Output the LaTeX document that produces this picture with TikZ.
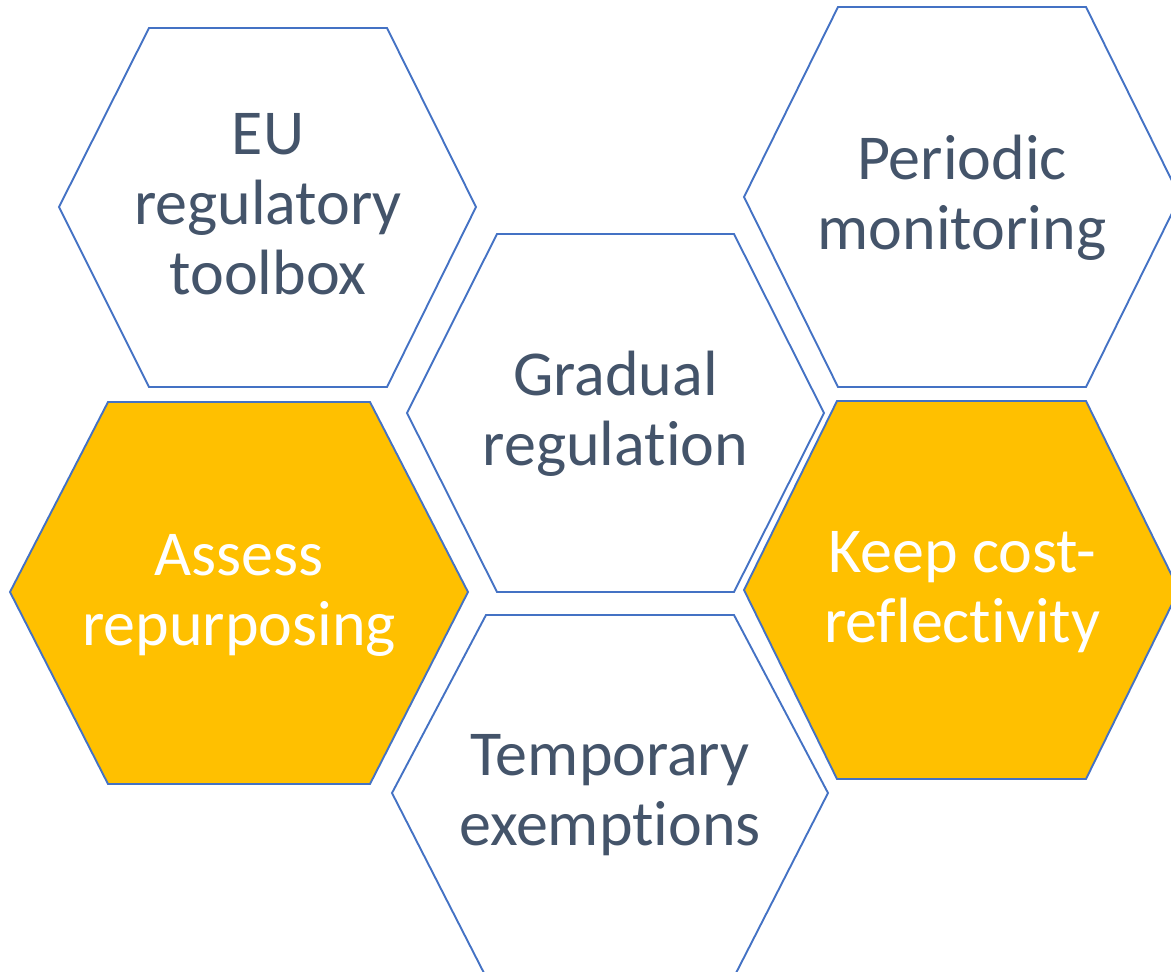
\documentclass[tikz,border=0pt]{standalone}
\usepackage{fontspec}
\setmainfont{Carlito}[RawFeature={-liga;-clig;-calt;-dlig}]
\definecolor{hexline}{HTML}{4472C4}
\definecolor{hexfill}{HTML}{FFC000}
\definecolor{hextext}{HTML}{44546A}
\newcommand\hstrut{\rule[-18pt]{0pt}{70pt}}
\newcommand\nolig{\kern0pt\relax}
\tikzset{
  hexwhite/.style={draw=hexline, line width=1.9pt, fill=white, line join=miter},
  hexorange/.style={draw=hexline, line width=1.9pt, fill=hexfill, line join=miter},
  lbl/.style={align=center, inner sep=0pt, font=\fontsize{64pt}{70pt}\selectfont, text=hextext},
  lblw/.style={lbl, text=white}
}
\begin{document}
\begin{tikzpicture}[x=1pt,y=-1pt]
\useasboundingbox (0,0) rectangle (1171,972);
\clip (0,0) rectangle (1171,972);
% hexagons
\draw[hexwhite] (59,207) -- (149,28) -- (387,28) -- (476,207) -- (387,387) -- (149,387) -- cycle;
\draw[hexwhite] (744,197) -- (838,7) -- (1086,7) -- (1180,197) -- (1086,387) -- (838,387) -- cycle;
\draw[hexwhite] (407,413) -- (497,234) -- (734,234) -- (824,413) -- (734,592) -- (497,592) -- cycle;
\draw[hexorange] (10,592) -- (108,402) -- (370,402) -- (468,592) -- (370,784) -- (108,784) -- cycle;
\draw[hexorange] (744,590) -- (837,401) -- (1086,401) -- (1179,590) -- (1086,779) -- (837,779) -- cycle;
\draw[hexwhite] (392,793) -- (486,615) -- (734,615) -- (828,793) -- (735,975) -- (485,975) -- cycle;
% labels
\node[lbl] (eu) at (268,207) {\hstrut EU\\\hstrut regulatory\\\hstrut toolbox};
\node[lbl] (pm) at (962,197) {\hstrut Periodic\\\hstrut monitoring};
\node[lbl] (gr) at (615.5,413) {\hstrut Gradual\\\hstrut regulat\nolig ion};
\node[lblw] (ar) at (239,593) {\hstrut Assess\\\hstrut repurposing};
\node[lblw] (kc) at (962,590) {\hstrut Keep cost-\\\hstrut reflect\nolig ivit\nolig y};
\node[lbl] (te) at (610,793) {\hstrut Temporary\\\hstrut exempt\nolig ions};
\end{tikzpicture}
\end{document}
